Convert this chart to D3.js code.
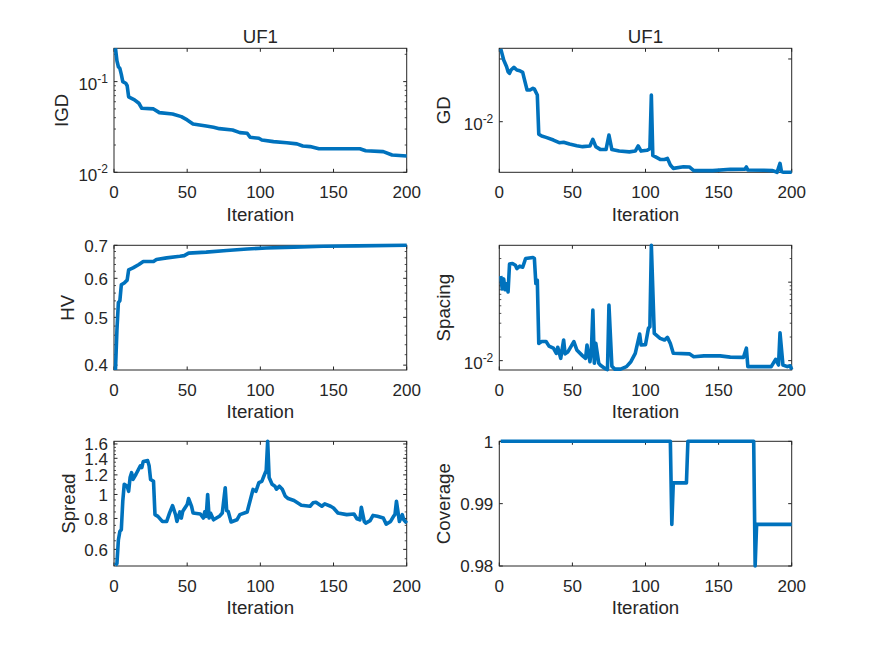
<!DOCTYPE html>
<html><head><meta charset="utf-8">
<script src="https://cdn.jsdelivr.net/npm/d3@7"></script>
<style>
body{margin:0;background:#fff}
svg{display:block}
text{font-family:"Liberation Sans",Arial,Helvetica,sans-serif;fill:#262626}
</style>
</head><body>
<svg id="c" width="875" height="656"></svg>
<script>
// ---------- data ----------
const xTicks = [0, 50, 100, 150, 200];

const igdIter = [1,2,3,4,5,6,8,9,10,14,17,19,27,31,40,46,50,54,63,68,72,81,86,91,93,99,101,109,118,125,129,134,140,168,172,184,190,200];
const igdVal  = [0.233,0.17,0.146,0.14,0.12,0.1,0.096,0.09,0.068,0.063,0.0577,0.0508,0.05,0.0455,0.044,0.0411,0.0378,0.0341,0.0324,0.0314,0.0303,0.0293,0.0274,0.027,0.0243,0.0237,0.0227,0.0218,0.0212,0.0206,0.0195,0.0192,0.0182,0.0182,0.0173,0.0169,0.0155,0.0151];
const igdDomain = [0.01, 0.233];
const igdTicks = [0.01, 0.1];
const igdTickLabels = ["10^-2", "10^-1"];
const igdMinor = [0.02,0.03,0.04,0.05,0.06,0.07,0.08,0.09,0.2];

const gdIter = [1,3,5,6,7,8,10,12,14,16,17,19,21,23,24,26,27,29,32,37,41,44,48,53,57,62,64,66,69,73,75,77,82,89,93,95,97,101,103,104,105,110,113,115,117,119,126,130,133,146,158,168,169,170,181,187,190,192,193,194,200];
const gdVal  = [0.145,0.0964,0.0753,0.0627,0.059,0.0667,0.0736,0.0667,0.065,0.0612,0.049,0.032,0.032,0.034,0.033,0.0266,0.0063,0.0059,0.00562,0.0051,0.00463,0.0047,0.0044,0.00414,0.004,0.0041,0.00523,0.004,0.00362,0.0036,0.00613,0.0036,0.0034,0.0033,0.0034,0.0041,0.0034,0.0035,0.0037,0.0266,0.0029,0.00251,0.0025,0.0026,0.00204,0.0018,0.00191,0.0019,0.00166,0.00166,0.00174,0.00175,0.0019,0.0017,0.00168,0.00166,0.00156,0.00216,0.0016,0.00157,0.00156];
const gdDomain = [0.00156, 0.148];
const gdTicks = [0.01, 0.1];
const gdTickLabels = ["10^-2", ""];
const gdMinor = [];

const hvIter = [1,2,3,4,5,7,9,10,13,17,20,27,29,36,45,48,51,63,77,91,104,123,143,166,200];
const hvVal  = [0.391,0.471,0.536,0.54,0.582,0.587,0.595,0.624,0.63,0.64,0.649,0.649,0.655,0.66,0.665,0.667,0.675,0.678,0.683,0.688,0.691,0.694,0.697,0.698,0.7];
const hvDomain = [0.391, 0.7];
const hvTicks = [0.4, 0.5, 0.6, 0.7];
const hvTickLabels = ["0.4", "0.5", "0.6", "0.7"];
const hvMinor = [0.42,0.44,0.46,0.48,0.52,0.54,0.56,0.58,0.62,0.64,0.66,0.68];

const spIter = [1,2,3,4,5,6,7,9,11,12,14,16,18,23,24,25,26,27,29,32,34,37,39,40,42,44,45,47,51,53,57,59,60,62,63,64,65,66,68,69,72,74,75,77,79,83,87,90,93,96,97,100,102,103,104,106,110,113,115,117,119,130,133,140,151,158,167,169,170,176,186,189,191,192,194,197,199,200];
const spVal  = [0.12,0.082,0.11,0.08,0.095,0.075,0.17,0.173,0.164,0.149,0.16,0.155,0.2,0.206,0.2,0.096,0.106,0.0166,0.0175,0.0175,0.0153,0.0144,0.0124,0.0148,0.0107,0.0183,0.0122,0.013,0.0175,0.0137,0.0115,0.0107,0.0158,0.0097,0.0137,0.044,0.00925,0.0166,0.0093,0.0088,0.008,0.0077,0.051,0.0085,0.0078,0.0078,0.0084,0.0097,0.0124,0.0218,0.0158,0.016,0.0258,0.027,0.295,0.0222,0.0192,0.0183,0.0198,0.0165,0.0124,0.0122,0.0112,0.0115,0.0115,0.0111,0.011,0.0144,0.0084,0.0084,0.0084,0.0104,0.0088,0.0227,0.0088,0.0084,0.0086,0.0077];
const spDomain = [0.0076, 0.295];
const spTicks = [0.01, 0.1];
const spTickLabels = ["10^-2", ""];
const spMinor = [0.02,0.03,0.04,0.05,0.06,0.07,0.08,0.09,0.2];

const sdIter = [1,2,3,4,5,6,7,9,10,11,12,13,15,18,19,20,23,24,25,27,28,30,33,36,38,40,42,43,45,46,47,50,51,53,54,59,61,62,63,64,65,66,68,72,74,76,77,78,80,84,86,91,92,95,97,99,101,102,104,105,106,108,110,111,113,115,117,119,123,128,134,136,138,142,144,148,150,153,159,164,166,168,169,171,172,175,177,180,184,186,189,191,192,193,195,197,198,200];
const sdVal  = [0.516,0.526,0.655,0.709,0.72,0.94,1.1,1.08,1.03,1.17,1.225,1.15,1.207,1.305,1.285,1.36,1.37,1.305,1.15,1.13,0.829,0.816,0.778,0.778,0.842,0.902,0.83,0.778,0.85,0.803,0.856,0.91,0.963,0.896,0.842,0.834,0.803,0.85,0.816,1.0,0.803,0.84,0.79,0.816,0.842,1.065,0.86,0.855,0.774,0.79,0.829,0.85,0.896,1.048,1.03,1.116,1.13,1.17,1.25,1.64,1.17,1.1,1.08,1.05,1.08,1.05,0.985,0.963,0.945,0.905,0.896,0.925,0.93,0.896,0.916,0.896,0.882,0.842,0.829,0.834,0.798,0.79,0.888,0.778,0.766,0.784,0.823,0.816,0.803,0.759,0.778,0.816,0.83,0.939,0.778,0.829,0.79,0.766];
const sdDomain = [0.514, 1.64];
const sdTicks = [0.6, 0.8, 1, 1.2, 1.4, 1.6];
const sdTickLabels = ["0.6", "0.8", "1", "1.2", "1.4", "1.6"];
const sdMinor = [0.55,0.65,0.7,0.75,0.85,0.9,0.95,1.05,1.1,1.15,1.25,1.3,1.35,1.45,1.5,1.55];

const cvIter = [1,117,118,119,128,129,174,175,176,200];
const cvVal  = [1,1,0.98667,0.99333,0.99333,1,1,0.98,0.98667,0.98667];
const cvDomain = [0.98, 1];
const cvTicks = [0.98, 0.99, 1];
const cvTickLabels = ["0.98", "0.99", "1"];
const cvMinor = [];

// ---------- layout ----------
const colX = [[114, 406.7], [499.3, 791.7]];
const rowY = [[48.3, 172.3], [245.3, 370], [441.3, 566]];
const ink = "#262626", blue = "#0072BD";
const tickFont = 17, labelFont = 18.7;

const panels = [
  {c:0,r:0,title:"UF1",yl:"IGD",log:true,dom:igdDomain,it:igdIter,v:igdVal,tk:igdTicks,tl:igdTickLabels,mn:igdMinor,ylx:68.3},
  {c:1,r:0,title:"UF1",yl:"GD",log:true,dom:gdDomain,it:gdIter,v:gdVal,tk:gdTicks,tl:gdTickLabels,mn:gdMinor,ylx:449.5},
  {c:0,r:1,yl:"HV",log:true,dom:hvDomain,it:hvIter,v:hvVal,tk:hvTicks,tl:hvTickLabels,mn:hvMinor,ylx:73.5},
  {c:1,r:1,yl:"Spacing",log:true,dom:spDomain,it:spIter,v:spVal,tk:spTicks,tl:spTickLabels,mn:spMinor,ylx:449.5},
  {c:0,r:2,yl:"Spread",log:true,dom:sdDomain,it:sdIter,v:sdVal,tk:sdTicks,tl:sdTickLabels,mn:sdMinor,ylx:74.5},
  {c:1,r:2,yl:"Coverage",log:false,dom:cvDomain,it:cvIter,v:cvVal,tk:cvTicks,tl:cvTickLabels,mn:cvMinor,ylx:449.5}
];

const svg = d3.select("#c");
svg.append("rect").attr("width",875).attr("height",656).attr("fill","#fff");

panels.forEach(p => {
  const [x0,x1] = colX[p.c], [y0,y1] = rowY[p.r];
  const x = d3.scaleLinear().domain([0,200]).range([x0,x1]);
  const y = (p.log ? d3.scaleLog() : d3.scaleLinear()).domain(p.dom).range([y1,y0]);
  const g = svg.append("g");
  const majLen = 3.5, minLen = 2;

  // box
  g.append("rect").attr("x",x0).attr("y",y0).attr("width",x1-x0).attr("height",y1-y0)
    .attr("fill","#fff").attr("stroke",ink).attr("stroke-width",1);

  // x ticks
  xTicks.forEach(t => {
    const xx = x(t);
    g.append("line").attr("x1",xx).attr("x2",xx).attr("y1",y1).attr("y2",y1-majLen).attr("stroke",ink);
    g.append("line").attr("x1",xx).attr("x2",xx).attr("y1",y0).attr("y2",y0+majLen).attr("stroke",ink);
    g.append("text").attr("x",xx).attr("y",y1+26).attr("text-anchor","middle")
      .attr("font-size",tickFont).text(t);
  });
  // y major ticks
  p.tk.forEach((t,i) => {
    const yy = y(t);
    g.append("line").attr("x1",x0).attr("x2",x0+majLen).attr("y1",yy).attr("y2",yy).attr("stroke",ink);
    g.append("line").attr("x1",x1).attr("x2",x1-majLen).attr("y1",yy).attr("y2",yy).attr("stroke",ink);
    const lab = p.tl[i];
    if (!lab) return;
    if (lab.includes("^")) {
      const [b,e] = lab.split("^");
      const tx = g.append("text").attr("x",x0-6).attr("y",yy+8.3).attr("text-anchor","end").attr("font-size",tickFont);
      tx.append("tspan").text(b);
      tx.append("tspan").attr("dy",-7.2).attr("font-size",12).text(e);
    } else {
      g.append("text").attr("x",x0-6).attr("y",yy+6.3).attr("text-anchor","end").attr("font-size",tickFont).text(lab);
    }
  });
  // y minor ticks
  p.mn.forEach(t => {
    const yy = y(t);
    g.append("line").attr("x1",x0).attr("x2",x0+minLen).attr("y1",yy).attr("y2",yy).attr("stroke",ink).attr("stroke-width",0.8);
    g.append("line").attr("x1",x1).attr("x2",x1-minLen).attr("y1",yy).attr("y2",yy).attr("stroke",ink).attr("stroke-width",0.8);
  });

  // data line
  const pts = p.it.map((d,i) => [d, p.v[i]]);
  const line = d3.line().x(d => x(d[0])).y(d => y(d[1]));
  g.append("path").attr("d", line(pts)).attr("fill","none").attr("stroke",blue)
    .attr("stroke-width",3.6).attr("stroke-linejoin","round").attr("stroke-linecap","butt");

  // labels
  g.append("text").attr("x",(x0+x1)/2).attr("y",y1+48.3).attr("text-anchor","middle")
    .attr("font-size",labelFont).text("Iteration");
  g.append("text").attr("transform",`translate(${p.ylx},${(y0+y1)/2}) rotate(-90)`)
    .attr("text-anchor","middle").attr("font-size",labelFont).text(p.yl);
  if (p.title) {
    g.append("text").attr("x",(x0+x1)/2).attr("y",y0-5.6).attr("text-anchor","middle")
      .attr("font-size",labelFont).text(p.title);
  }
});
</script>
</body></html>
